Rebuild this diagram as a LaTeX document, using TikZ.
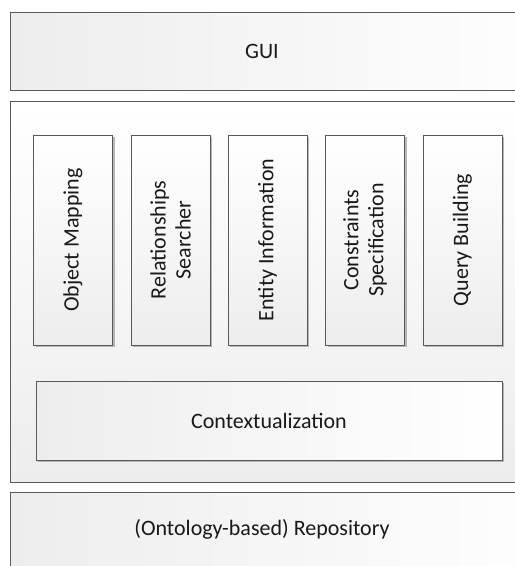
\documentclass[tikz,border=0pt]{standalone}
\usepackage{fontspec}
\setmainfont{Carlito}
\usetikzlibrary{shadows}

\definecolor{edgecol}{HTML}{595959}
\definecolor{shadecol}{HTML}{EDEDED}
\definecolor{shadowcol}{HTML}{A6A6A6}

\begin{document}
\begin{tikzpicture}[x=1pt, y=-1pt,
    layer/.style={draw=edgecol, line width=0.9pt, anchor=north west, inner sep=0pt},
    lbl/.style={font=\fontsize{22}{25}\selectfont, text=black!90},
    module/.style={draw=edgecol, line width=0.9pt, inner sep=0pt, align=center, lbl,
        drop shadow={shadow xshift=2pt, shadow yshift=-2pt, fill=shadowcol, opacity=0.8}},
]

\useasboundingbox (0, 0) rectangle (515, 566);
\clip (0, 0) rectangle (515, 566);

% Layers
\node[layer, left color=shadecol, right color=white!95!shadecol,
      minimum width=530pt, minimum height=78pt] (gui) at (10, 12) {};
\node[layer, top color=white, bottom color=shadecol,
      minimum width=530pt, minimum height=381pt] (core) at (10, 101) {};
\node[layer, left color=shadecol, right color=white!95!shadecol,
      minimum width=530pt, minimum height=90pt] (repo) at (10, 492) {};

\node[lbl] (guitext) at (262, 51) {GUI};
\node[lbl] (repotext) at (262, 529) {(Ontology-based) Repository};

% Modules (vertical)
\foreach \cx/\name/\txt in {
    73/objmap/{Object Mapping},
    170.5/relsearch/{Relationships\\Searcher},
    267.5/entinfo/{Entity Information},
    365/constr/{Constraints\\Specification},
    462.5/query/{Query Building}} {
    \node[module, rotate=90, top color=white, bottom color=shadecol,
          minimum width=210pt, minimum height=79pt] (\name) at (\cx, 240) {\txt};
}

% Contextualization
\node[module, left color=shadecol, right color=white,
      minimum width=466pt, minimum height=79pt] (context) at (269, 420.5) {Contextualization};

\end{tikzpicture}
\end{document}
